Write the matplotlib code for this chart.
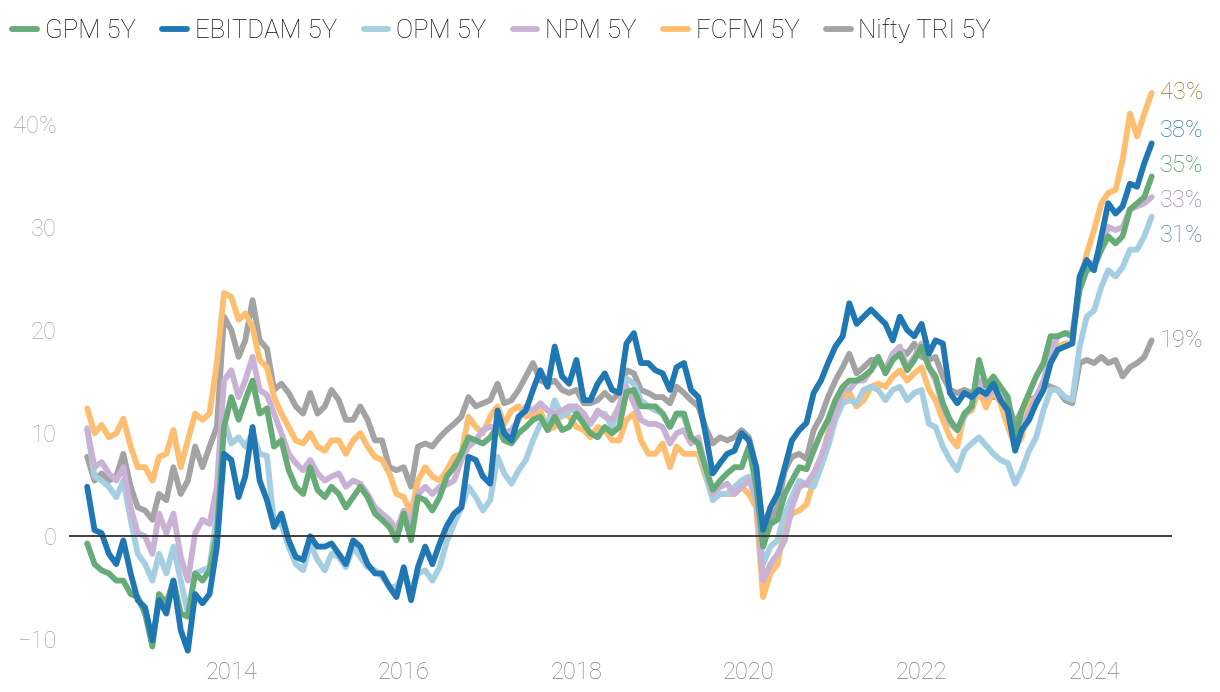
import numpy as np
import pandas as pd
import matplotlib
matplotlib.use('Agg')
import matplotlib.pyplot as plt
from matplotlib.lines import Line2D

plt.rcParams['font.family'] = ['Roboto', 'DejaVu Sans']

# monthly points, May 2012 .. Sep 2024 (values in %)
dates = pd.date_range('2012-05-01', '2024-09-01', freq='MS')

gpm = [
    -0.7, -2.7, -3.3, -3.6, -4.3, -4.3, -5.6, -5.9,
    -7.5, -10.7, -5.6, -6.5, -4.3, -7.5, -7.8, -3.6, -4.3, -3.3, 0.3, 10.6,
    13.5, 11.3, 13.2, 15.1, 11.9, 12.4, 8.7, 9.3, 6.4, 4.8, 4.1, 6.7,
    4.5, 3.8, 4.8, 4.1, 2.8, 3.8, 4.8, 3.8, 2.2, 1.6, 0.9, -0.4,
    2.2, -0.4, 3.8, 3.5, 2.5, 3.8, 5.8, 6.7, 8.0, 9.6, 9.3, 9.0,
    9.6, 10.6, 9.3, 9.0, 10.0, 10.6, 11.3, 11.6, 10.3, 11.6, 10.3, 10.6,
    11.9, 10.9, 10.0, 9.6, 10.6, 10.0, 10.6, 14.0, 14.2, 12.6, 12.6, 12.6,
    11.9, 10.6, 11.9, 11.9, 9.6, 9.0, 6.7, 4.5, 5.4, 6.1, 6.7, 6.7,
    8.7, 4.8, -1.0, 1.2, 1.6, 4.1, 5.4, 6.7, 6.5, 8.3, 10.0, 11.3,
    13.2, 14.5, 15.1, 15.1, 15.5, 16.1, 17.4, 15.8, 17.1, 17.7, 16.1, 17.1,
    18.4, 16.4, 15.5, 12.9, 11.3, 10.3, 11.9, 12.6, 17.1, 14.6, 15.5, 14.5,
    13.5, 9.6, 12.2, 13.9, 15.5, 16.8, 19.4, 19.4, 19.7, 19.4, 23.9, 25.8,
    26.1, 27.8, 29.1, 28.4, 29.1, 31.7, 32.3, 32.9, 34.9,
]

ebitdam = [
    4.8, 0.6, 0.3, -1.7, -2.7, -0.4, -3.6, -6.2,
    -6.9, -10.1, -6.2, -7.5, -4.3, -9.1, -11.1, -5.6, -6.5, -5.6, -1.0, 8.0,
    7.4, 3.8, 5.8, 10.6, 5.4, 3.5, 0.9, 2.2, -0.4, -2.0, -2.3, 0.0,
    -1.0, -1.0, -0.7, -1.7, -2.7, -0.4, -1.0, -2.7, -3.6, -3.6, -4.9, -5.9,
    -3.0, -6.2, -3.0, -1.0, -2.7, -0.7, 1.0, 2.2, 2.8, 7.7, 7.4, 5.8,
    5.1, 12.2, 10.0, 9.3, 11.6, 12.2, 14.2, 16.1, 14.5, 18.4, 15.5, 14.8,
    17.1, 13.2, 13.2, 14.8, 15.8, 14.2, 13.9, 18.7, 19.7, 16.8, 16.8, 16.1,
    15.8, 14.2, 16.4, 16.8, 14.2, 13.5, 10.0, 6.1, 7.1, 8.0, 8.3, 10.0,
    9.3, 6.7, 0.6, 2.8, 4.1, 6.7, 9.3, 10.3, 11.0, 13.9, 15.1, 16.8,
    18.4, 19.4, 22.6, 20.6, 21.3, 22.0, 21.3, 20.6, 19.0, 21.3, 20.0, 19.4,
    20.6, 17.7, 19.0, 18.7, 13.9, 12.9, 13.9, 13.5, 14.2, 13.8, 14.8, 13.2,
    12.2, 8.3, 10.3, 11.3, 12.9, 14.2, 16.8, 18.1, 18.4, 18.7, 25.2, 26.8,
    25.8, 29.1, 32.3, 31.3, 32.0, 34.2, 33.9, 36.2, 38.1,
]

opm = [
    10.5, 5.8, 5.4, 4.8, 3.8, 5.4, 1.6, -1.7,
    -2.7, -4.3, -1.7, -3.6, -1.0, -4.3, -7.5, -3.6, -3.3, -3.0, 2.2, 11.3,
    9.0, 9.6, 8.7, 10.0, 8.0, 7.8, 1.2, 1.2, -1.0, -2.7, -3.3, -0.7,
    -2.3, -3.3, -1.7, -2.0, -3.0, -1.0, -2.0, -3.0, -3.3, -3.9, -4.9, -4.9,
    -3.6, -5.2, -3.6, -3.3, -4.3, -3.0, -0.5, 1.2, 2.8, 4.8, 3.8, 2.5,
    3.5, 7.7, 6.1, 5.1, 6.4, 7.4, 9.3, 10.9, 10.9, 13.2, 11.6, 12.2,
    12.2, 11.3, 10.9, 11.9, 11.9, 10.6, 12.6, 15.3, 14.8, 13.2, 12.6, 12.2,
    11.9, 10.6, 11.9, 11.6, 9.6, 9.0, 6.1, 3.5, 4.1, 4.1, 4.8, 5.4,
    5.8, 3.5, -2.7, -1.0, -0.4, 2.2, 3.8, 5.4, 5.0, 4.8, 6.7, 8.7,
    11.3, 12.9, 13.2, 12.9, 14.2, 14.5, 14.2, 13.2, 14.2, 14.5, 13.2, 13.9,
    14.2, 10.9, 10.6, 8.7, 7.4, 6.4, 8.3, 9.0, 9.6, 8.8, 8.0, 7.4,
    7.1, 5.1, 6.4, 8.3, 9.6, 12.2, 14.2, 14.2, 13.5, 13.2, 18.4, 21.3,
    21.9, 24.2, 25.8, 25.2, 26.1, 27.8, 27.8, 29.1, 31.0,
]

npm = [
    10.3, 6.7, 7.2, 6.1, 5.4, 6.7, 2.8, 0.3,
    0.0, -1.7, 2.2, 0.3, 2.2, -2.0, -4.3, 0.3, 1.6, 1.2, 4.8, 15.1,
    16.1, 13.5, 15.1, 17.4, 14.2, 13.7, 11.9, 10.0, 8.0, 7.1, 6.4, 7.4,
    6.1, 5.4, 5.8, 6.1, 4.8, 5.4, 5.1, 4.1, 2.8, 2.2, 1.6, 0.6,
    2.5, 1.2, 4.1, 4.8, 4.1, 4.8, 5.0, 5.4, 7.4, 8.7, 9.3, 10.3,
    10.6, 10.6, 10.0, 10.3, 11.3, 12.6, 12.2, 12.9, 12.2, 11.9, 12.2, 12.6,
    12.6, 11.9, 10.9, 12.2, 11.6, 11.3, 12.6, 14.5, 12.9, 11.3, 10.9, 10.9,
    10.6, 9.0, 10.0, 10.3, 9.0, 9.6, 6.7, 4.1, 4.8, 5.1, 4.1, 4.8,
    5.4, 3.8, -4.3, -2.7, -1.7, -0.4, 2.8, 4.8, 5.1, 6.1, 7.7, 9.6,
    11.9, 14.2, 14.2, 15.1, 15.1, 16.1, 17.1, 16.1, 17.7, 18.4, 16.4, 17.4,
    18.7, 16.4, 15.1, 12.6, 10.9, 10.3, 11.6, 12.6, 15.1, 13.5, 14.2, 13.5,
    11.9, 9.6, 10.9, 11.9, 13.5, 15.1, 17.7, 19.4, 19.7, 19.7, 24.5, 26.5,
    26.5, 28.1, 30.0, 29.7, 30.0, 31.7, 32.0, 32.3, 32.9,
]

fcfm = [
    12.4, 10.0, 10.8, 9.6, 10.0, 11.4, 8.7, 6.7,
    6.7, 5.4, 7.7, 8.0, 10.3, 6.7, 9.3, 11.9, 11.3, 11.9, 16.8, 23.6,
    23.2, 21.0, 21.6, 20.3, 17.1, 16.4, 13.5, 11.9, 10.6, 9.3, 9.0, 10.0,
    8.7, 8.3, 9.3, 9.3, 8.0, 9.3, 10.0, 8.7, 7.7, 7.4, 6.1, 4.1,
    3.8, 2.2, 5.4, 6.7, 5.8, 5.4, 6.4, 7.7, 8.0, 11.6, 10.6, 10.0,
    11.6, 12.6, 10.9, 12.2, 12.6, 11.6, 11.9, 12.2, 10.3, 10.6, 12.2, 11.6,
    10.6, 10.3, 9.6, 10.6, 10.3, 9.3, 9.3, 11.3, 11.9, 9.3, 8.0, 8.0,
    9.0, 6.7, 8.7, 8.0, 8.0, 8.0, 5.8, 3.8, 4.1, 4.1, 4.1, 4.8,
    4.1, 2.8, -5.9, -3.6, -2.7, 0.9, 2.2, 2.5, 3.1, 5.4, 7.4, 10.0,
    11.9, 13.2, 13.9, 12.6, 13.2, 14.5, 14.8, 14.5, 15.5, 16.1, 15.1, 15.8,
    16.4, 14.2, 13.2, 11.3, 9.6, 8.7, 11.9, 12.2, 14.2, 12.5, 14.2, 12.9,
    10.6, 8.7, 9.6, 12.9, 13.5, 14.2, 16.8, 18.4, 18.7, 18.7, 24.5, 27.4,
    29.7, 32.3, 33.3, 33.6, 36.5, 41.0, 38.8, 41.0, 43.0,
]

nifty = [
    7.7, 5.4, 6.1, 5.4, 5.8, 8.0, 4.8, 2.8,
    2.5, 1.6, 4.1, 3.5, 6.7, 4.1, 5.4, 8.7, 6.7, 8.7, 10.6, 21.3,
    20.0, 17.4, 19.0, 22.9, 19.0, 18.2, 14.2, 14.8, 13.9, 12.6, 11.9, 13.9,
    11.9, 12.6, 14.2, 13.2, 11.3, 11.3, 12.6, 11.3, 9.3, 9.3, 6.7, 6.4,
    6.7, 4.8, 8.7, 9.0, 8.7, 9.6, 10.3, 10.9, 11.6, 13.5, 12.6, 12.9,
    13.2, 14.8, 12.9, 13.2, 14.2, 15.5, 16.8, 15.1, 14.8, 15.1, 14.2, 13.9,
    14.2, 12.9, 12.9, 13.2, 13.9, 13.2, 13.9, 16.1, 15.8, 14.2, 13.9, 13.5,
    13.5, 12.9, 14.5, 13.9, 13.2, 12.6, 10.6, 9.0, 9.6, 9.3, 9.6, 10.3,
    9.6, 6.7, 0.6, 1.6, 2.8, 6.4, 7.7, 8.0, 7.5, 10.3, 11.6, 13.5,
    15.1, 16.4, 17.7, 15.8, 16.4, 17.1, 17.1, 16.1, 17.7, 18.1, 17.7, 18.7,
    17.4, 17.1, 17.4, 15.5, 14.2, 13.9, 14.2, 13.9, 14.2, 13.5, 13.5, 13.5,
    12.9, 10.9, 12.2, 13.2, 13.5, 14.8, 14.5, 14.2, 13.2, 12.9, 16.8, 17.1,
    16.8, 17.4, 16.8, 17.1, 15.5, 16.4, 16.8, 17.4, 19.0,
]

names = ['GPM 5Y', 'EBITDAM 5Y', 'OPM 5Y', 'NPM 5Y', 'FCFM 5Y', 'Nifty TRI 5Y']
values = [gpm, ebitdam, opm, npm, fcfm, nifty]
colors = ['#67ab77', '#1f77b4', '#a6cee3', '#cab2d6', '#fdbf6f', '#a3a3a3']
label_colors = ['#3f8f52', '#2a78b8', '#4f8098', '#9582aa', '#a66f22', '#888888']
zorders = [5, 6, 3, 4, 2, 1]

for v in values:
    assert len(v) == len(dates)

fig = plt.figure(figsize=(12.2, 6.92), dpi=100)
W, H = 1220, 692
ax = fig.add_axes([69 / W, 1 - 660 / H, (1172 - 69) / W, (660 - 62) / H])

for name, v, c, z in zip(names, values, colors, zorders):
    ax.plot(dates, v, color=c, lw=4.2, zorder=z, label=name,
            solid_capstyle='round', solid_joinstyle='round')

ax.axhline(0, color='#333333', lw=1.3, zorder=10)

ax.set_xlim(pd.Timestamp('2012-02-14'), pd.Timestamp('2024-11-26'))
ax.set_ylim(-12, 46)

yt = [-10, 0, 10, 20, 30, 40]
ax.set_yticks(yt)
ax.set_yticklabels(['\u221210', '0', '10', '20', '30', '40%'])
years = [2014, 2016, 2018, 2020, 2022, 2024]
ax.set_xticks([pd.Timestamp(f'{y}-01-01') for y in years])
ax.set_xticklabels([str(y) for y in years])

ax.tick_params(axis='both', length=0, labelsize=17)
ax.tick_params(axis='y', pad=9, labelcolor='#a8a8a8')
ax.tick_params(axis='x', pad=1, labelcolor='#808080')
for t in ax.get_xticklabels() + ax.get_yticklabels():
    t.set_fontweight('light')
for s in ax.spines.values():
    s.set_visible(False)

# end labels, spread so they don't collide
last = np.array([v[-1] for v in values])
order = np.argsort(-last)
pos = last[order].astype(float).copy()
gap = 3.4
for _ in range(300):
    for i in range(len(pos) - 1):
        d = pos[i] - pos[i + 1]
        if d < gap:
            m = (gap - d) / 2
            pos[i] += m
            pos[i + 1] -= m
label_y = np.empty_like(pos)
label_y[order] = pos
for v, ly, lc in zip(values, label_y, label_colors):
    ax.annotate(f'{v[-1]:.0f}%', xy=(dates[-1], ly), xytext=(6, 0),
                textcoords='offset points', va='center', ha='left',
                fontsize=17, color=lc, fontweight='light', annotation_clip=False)

leg_handles = [Line2D([0], [0], color=c, lw=4.2, solid_capstyle='round') for c in colors]
fig.legend(leg_handles, names, loc='upper left', bbox_to_anchor=(-3 / W, 1 - 3 / H), ncol=6,
           frameon=False, handlelength=0.95, handletextpad=0.3,
           columnspacing=1.05, borderpad=0.4, borderaxespad=0.2,
           prop={'size': 18.5, 'weight': 'light'}, labelcolor='#111111')

fig.savefig('out.png', dpi=100)
